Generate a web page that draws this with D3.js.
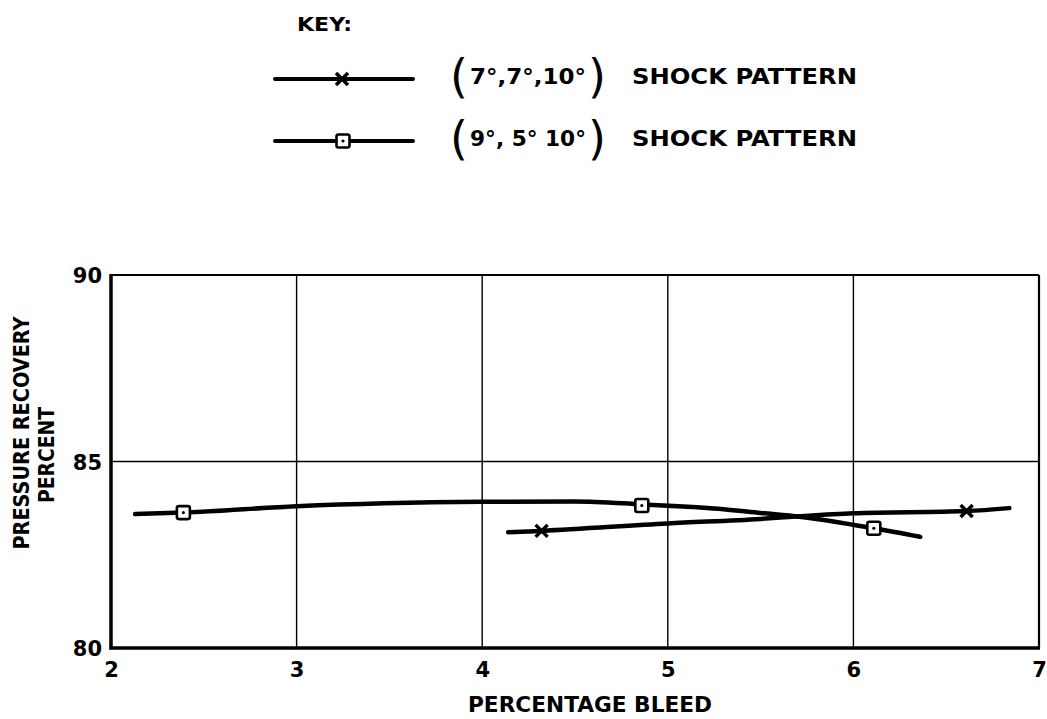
<!DOCTYPE html>
<html lang="en">
<head>
<meta charset="utf-8">
<title>Pressure recovery vs percentage bleed</title>
<script src="https://d3js.org/d3.v7.min.js"></script>
<style>
  body { margin: 0; background: #fff; }
  svg text { font-family: "DejaVu Sans", sans-serif; font-weight: bold; fill: #000; }
  svg text.paren { font-weight: normal; }
</style>
</head>
<body>
<div id="chart"></div>
<script>
// ---- data ----
const xTicks = [2, 3, 4, 5, 6, 7];
const yTicks = [80, 85, 90];

// (7°,7°,10°) shock pattern - faired curve + plotted points
const crossCurveX = [4.14, 4.32, 5.0, 5.5, 5.71, 6.0, 6.61, 6.84];
const crossCurveY = [83.10, 83.14, 83.34, 83.46, 83.53, 83.61, 83.67, 83.75];
const crossMarkX = [4.32, 6.61];
const crossMarkY = [83.14, 83.67];

// (9°,5°,10°) shock pattern
const squareCurveX = [2.13, 2.39, 3.0, 4.0, 4.5, 4.86, 5.3, 5.5, 5.71, 6.11, 6.36];
const squareCurveY = [83.59, 83.63, 83.80, 83.92, 83.93, 83.85, 83.72, 83.62, 83.52, 83.21, 82.98];
const squareMarkX = [2.39, 4.86, 6.11];
const squareMarkY = [83.63, 83.82, 83.21];

const W = 1047, H = 719;
const svg = d3.select("#chart").append("svg")
    .attr("width", W).attr("height", H);

const x = d3.scaleLinear().domain([2, 7]).range([111, 1039]);
const y = d3.scaleLinear().domain([80, 90]).range([648, 275]);

// grid lines
svg.append("g").selectAll("line")
    .data(xTicks.slice(1, -1)).join("line")
    .attr("x1", d => x(d)).attr("x2", d => x(d))
    .attr("y1", y(90)).attr("y2", y(80))
    .attr("stroke", "#000").attr("stroke-width", 1.4);
svg.append("line")
    .attr("x1", x(2)).attr("x2", x(7))
    .attr("y1", y(85)).attr("y2", y(85))
    .attr("stroke", "#000").attr("stroke-width", 1.4);

// frame
svg.append("line").attr("x1", x(2)).attr("x2", x(7)).attr("y1", y(90)).attr("y2", y(90))
    .attr("stroke", "#000").attr("stroke-width", 2.2);
svg.append("line").attr("x1", x(7)).attr("x2", x(7)).attr("y1", y(90)).attr("y2", y(80))
    .attr("stroke", "#000").attr("stroke-width", 2.2);
svg.append("line").attr("x1", x(2)).attr("x2", x(2)).attr("y1", y(90) - 1).attr("y2", y(80) + 1.5)
    .attr("stroke", "#000").attr("stroke-width", 3.5);
svg.append("line").attr("x1", x(2) - 1.5).attr("x2", x(7) + 1).attr("y1", y(80)).attr("y2", y(80))
    .attr("stroke", "#000").attr("stroke-width", 3.5);

// axes (labels only, lines drawn above)
const xAxis = svg.append("g")
    .attr("transform", "translate(0," + y(80) + ")")
    .call(d3.axisBottom(x).tickValues(xTicks).tickSize(0).tickPadding(14).tickFormat(d3.format("d")));
const yAxis = svg.append("g")
    .attr("transform", "translate(" + x(2) + ",0)")
    .call(d3.axisLeft(y).tickValues(yTicks).tickSize(0).tickPadding(9).tickFormat(d3.format("d")));
[xAxis, yAxis].forEach(a => {
    a.select(".domain").remove();
    a.selectAll("text").attr("font-size", 21).attr("font-family", "DejaVu Sans").attr("font-weight", "bold").attr("fill", "#000");
});
xAxis.selectAll("text").attr("dy", "0.72em");
yAxis.selectAll("text").attr("dy", "0.38em");

// axis titles
svg.append("text")
    .attr("x", 590).attr("y", 712)
    .attr("text-anchor", "middle").attr("font-size", 21)
    .attr("textLength", 244).attr("lengthAdjust", "spacingAndGlyphs")
    .text("PERCENTAGE  BLEED");
svg.append("text")
    .attr("transform", "translate(29,433) rotate(-90)")
    .attr("text-anchor", "middle").attr("font-size", 21)
    .attr("textLength", 233).attr("lengthAdjust", "spacingAndGlyphs")
    .text("PRESSURE  RECOVERY");
svg.append("text")
    .attr("transform", "translate(54,455) rotate(-90)")
    .attr("text-anchor", "middle").attr("font-size", 21)
    .attr("textLength", 96).attr("lengthAdjust", "spacingAndGlyphs")
    .text("PERCENT");

// curves
const line = d3.line().x(d => x(d[0])).y(d => y(d[1])).curve(d3.curveMonotoneX);
const crossPts = crossCurveX.map((v, i) => [v, crossCurveY[i]]);
const squarePts = squareCurveX.map((v, i) => [v, squareCurveY[i]]);

[crossPts, squarePts].forEach(pts => {
    svg.append("path")
        .attr("d", line(pts))
        .attr("fill", "none").attr("stroke", "#000")
        .attr("stroke-width", 4.5).attr("stroke-linecap", "round");
});

// markers
function drawCross(g, cx, cy, s) {
    g.append("path")
        .attr("d", `M${cx - s},${cy - s}L${cx + s},${cy + s}M${cx - s},${cy + s}L${cx + s},${cy - s}`)
        .attr("stroke", "#000").attr("stroke-width", 3.5).attr("fill", "none");
}
function drawSquare(g, cx, cy, s) {
    g.append("rect")
        .attr("x", cx - s).attr("y", cy - s).attr("width", 2 * s).attr("height", 2 * s)
        .attr("rx", 2)
        .attr("fill", "#fff").attr("stroke", "#000").attr("stroke-width", 2.6);
    g.append("circle").attr("cx", cx).attr("cy", cy).attr("r", 1.6).attr("fill", "#000");
}
crossMarkX.forEach((v, i) => drawCross(svg, x(v), y(crossMarkY[i]), 6));
squareMarkX.forEach((v, i) => drawSquare(svg, x(v), y(squareMarkY[i]), 6.5));

// key
svg.append("text").attr("x", 297).attr("y", 31).attr("font-size", 19)
    .attr("textLength", 55).attr("lengthAdjust", "spacingAndGlyphs").text("KEY:");

const keyRows = [
    { y: 79, inner: "7°,7°,10°", marker: "cross" },
    { y: 141, inner: "9°, 5° 10°", marker: "square" }
];
keyRows.forEach(r => {
    svg.append("line").attr("x1", 275).attr("x2", 413).attr("y1", r.y).attr("y2", r.y)
        .attr("stroke", "#000").attr("stroke-width", 4).attr("stroke-linecap", "round");
    if (r.marker === "cross") drawCross(svg, 342, r.y, 6);
    else drawSquare(svg, 343, r.y, 6.5);
    svg.append("text").attr("class", "paren").attr("x", 450).attr("y", r.y + 13).attr("font-size", 46).text("(");
    svg.append("text").attr("x", 470).attr("y", r.y + 5).attr("font-size", 22)
        .attr("textLength", 116).attr("lengthAdjust", "spacingAndGlyphs").text(r.inner);
    svg.append("text").attr("class", "paren").attr("x", 588).attr("y", r.y + 13).attr("font-size", 46).text(")");
    svg.append("text").attr("x", 632).attr("y", r.y + 5).attr("font-size", 22)
        .attr("textLength", 225).attr("lengthAdjust", "spacingAndGlyphs").text("SHOCK  PATTERN");
});
</script>
</body>
</html>
